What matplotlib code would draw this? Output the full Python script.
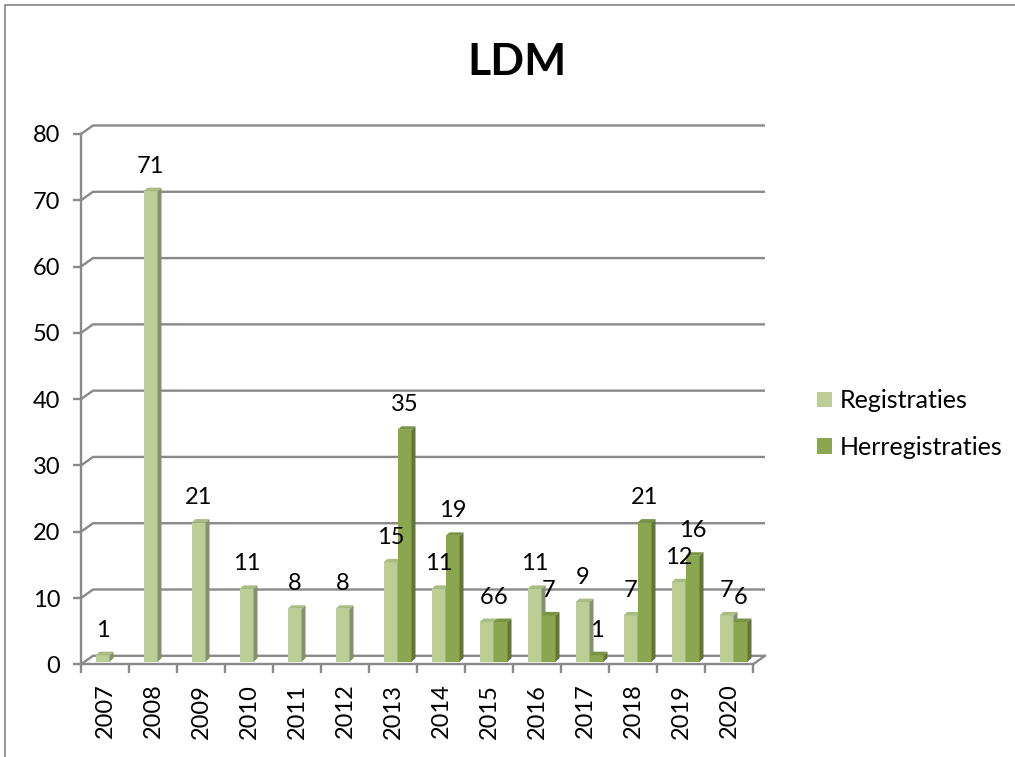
import numpy as np
import matplotlib
matplotlib.use("Agg")
from matplotlib import pyplot as plt
from matplotlib.patches import Polygon, Rectangle, Patch
from matplotlib.lines import Line2D

plt.rcParams['font.family'] = ['Lato', 'DejaVu Sans']

# data
years = ['2007', '2008', '2009', '2010', '2011', '2012', '2013',
         '2014', '2015', '2016', '2017', '2018', '2019', '2020']
registraties = [1, 71, 21, 11, 8, 8, 15, 11, 6, 11, 9, 7, 12, 7]
herregistraties = [None, None, None, None, None, None, 35, 19, 6, 7, 1, 21, 16, 6]
series_names = ['Registraties', 'Herregistraties']

W, H = 1015, 757
fig = plt.figure(figsize=(W / 100, H / 100), dpi=100)

# front plane of the plot area in pixels
x_left, x_right = 81, 753
y_bot, y_top = 664.3, 134
ax = fig.add_axes([x_left / W, 1 - y_bot / H, (x_right - x_left) / W, (y_bot - y_top) / H])
ax.set_xlim(0, len(years))
ax.set_ylim(0, 80)

sx = (x_right - x_left) / len(years)   # px per category
sy = (y_bot - y_top) / 80.0            # px per unit

grid_col = '#898989'
# back wall offset
ox, oy = 12 / sx, 8.5 / sy
for v in range(0, 81, 10):
    ax.plot([0, ox, len(years) + ox], [v, v + oy, v + oy], color=grid_col,
            lw=1.7, solid_capstyle='butt', clip_on=False, zorder=1)
ax.plot([len(years), len(years) + ox], [0, oy], color=grid_col, lw=1.7,
        clip_on=False, zorder=1)

# bars (pseudo 3d)
bx, by = 4.5 / sx, 2.5 / sy
w = 14 / sx
dx, dy = 4 / sx, 3.5 / sy
face = ['#BCCE96', '#8AA64F']
side = ['#82936A', '#5F7733']
top = ['#A9BC83', '#789443']


def draw_bar(x0, v, k):
    ax.add_patch(Rectangle((x0, by), w, v, facecolor=face[k], edgecolor='none',
                           clip_on=False, zorder=3))
    ax.add_patch(Polygon([(x0 + w, by), (x0 + w, by + v), (x0 + w + dx, by + v + dy),
                          (x0 + w + dx, by + dy)], closed=True, facecolor=side[k],
                         edgecolor='none', clip_on=False, zorder=3))
    ax.add_patch(Polygon([(x0, by + v), (x0 + w, by + v), (x0 + w + dx, by + v + dy),
                          (x0 + dx, by + v + dy)], closed=True, facecolor=top[k],
                         edgecolor='none', clip_on=False, zorder=3))
    ax.annotate(str(v), (x0 + w / 2, by + v), xytext=(0, 25 / 1.389),
                textcoords='offset points', ha='center', va='center',
                fontsize=17, color='black', zorder=5, annotation_clip=False)


for i in range(len(years)):
    draw_bar(i + 0.5 - w + bx, registraties[i], 0)
    if herregistraties[i] is not None:
        draw_bar(i + 0.5 + bx, herregistraties[i], 1)

# axes
for s in ['top', 'right']:
    ax.spines[s].set_visible(False)
for s in ['left', 'bottom']:
    ax.spines[s].set_color(grid_col)
    ax.spines[s].set_linewidth(1.7)
ax.set_yticks(range(0, 81, 10))
ax.tick_params(axis='y', length=6, width=1.7, color=grid_col, pad=9, labelsize=17)
ax.set_xticks(range(len(years) + 1))
ax.set_xticklabels([])
ax.tick_params(axis='x', which='major', length=6.5, width=1.7, color=grid_col)
ax.set_xticks(np.arange(len(years)) + 0.5, minor=True)
ax.set_xticklabels(years, minor=True, rotation=90, fontsize=17)
ax.tick_params(axis='x', which='minor', length=0, pad=14)
ax.patch.set_visible(False)

fig.text(517 / W, 1 - 62 / H, 'LDM', ha='center', va='center', fontsize=32,
         fontweight='bold')

handles = [Patch(facecolor=face[0], edgecolor='none'), Patch(facecolor=face[1], edgecolor='none')]
fig.legend(handles, series_names, loc='center left', bbox_to_anchor=(817 / W, 1 - 424 / H),
           frameon=False, fontsize=18, handlelength=0.58, handleheight=0.58,
           handletextpad=0.32, labelspacing=0.95, borderpad=0, borderaxespad=0)

# chart border
fig.add_artist(Line2D([5.3 / W, 5.3 / W, 1], [0, 1 - 4.7 / H, 1 - 4.7 / H],
                      transform=fig.transFigure, color='#8C8C8C', lw=1.3))

fig.savefig('out.png', dpi=100)
